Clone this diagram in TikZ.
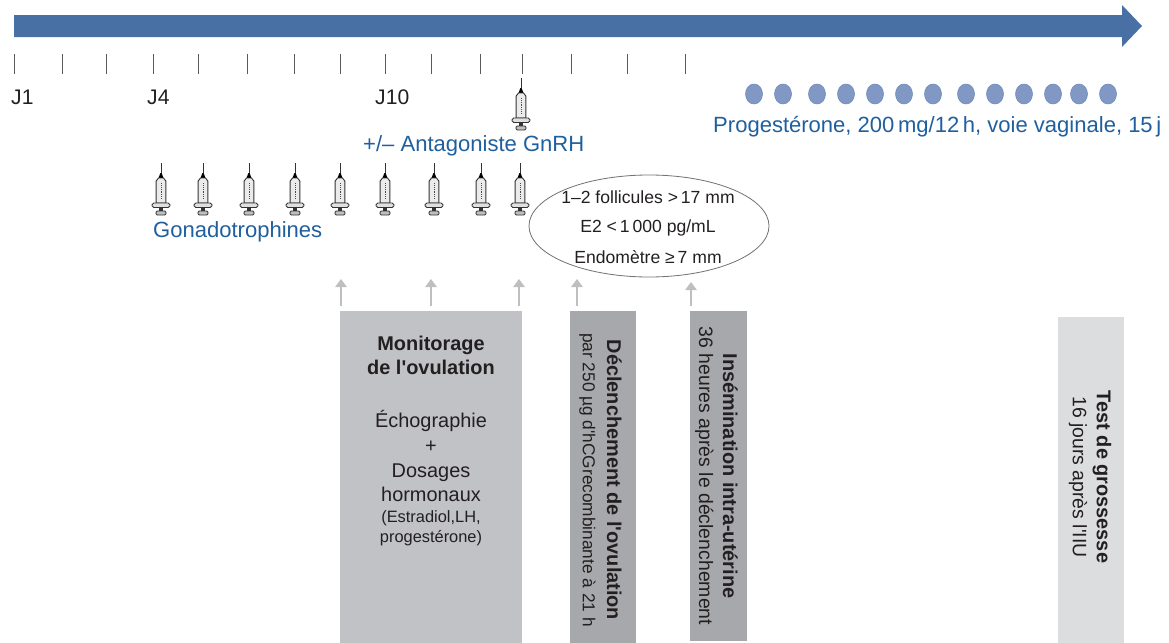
\documentclass[tikz,border=0pt]{standalone}
\usepackage{fontspec}
\setmainfont{Liberation Sans}
\usetikzlibrary{arrows.meta}
\usetikzlibrary{shapes.geometric}

\definecolor{timeblue}{HTML}{4870A5}
\definecolor{textblue}{HTML}{1F5F9E}
\definecolor{dotblue}{HTML}{8298C4}
\definecolor{dotedge}{HTML}{6F8DBB}
\definecolor{inkdark}{HTML}{231F20}
\newcommand{\titlesize}{\fontsize{17}{20.5}\selectfont\bfseries}
\newcommand{\sq}{\textquotesingle}

\begin{document}
\begin{tikzpicture}[x=0.03cm,y=-0.03cm,
    daytick/.style={draw=black!65, line width=0.8pt},
    daylabel/.style={text=inkdark, font=\fontsize{18}{20}\selectfont, anchor=west, inner sep=0pt},
    bluelabel/.style={text=textblue, font=\fontsize{18.8}{22}\selectfont, anchor=west, inner sep=0pt},
    pill/.style={ellipse, draw=dotedge, fill=dotblue, line width=0.5pt, inner sep=0pt},
    panel/.style={rectangle, anchor=north west, inner sep=0pt, draw=none},
    criteria/.style={text=inkdark, font=\fontsize{15}{18}\selectfont, inner sep=0pt},
    sidetext/.style={text=inkdark, rotate=-90, align=center, inner sep=0pt, font=\fontsize{16.6}{20.5}\selectfont},
    up/.style={draw=black!25, line width=1pt, -{Triangle[length=7pt,width=10pt]}},
    pics/syringe/.style={code={
      \draw[black!80, line width=0.5pt] (0,0) -- (0,10);
      \fill[black] (-2.5,15) -- (-0.6,10) -- (0.6,10) -- (2.5,15) -- cycle;
      \draw[black!80, fill=black!8, line width=0.8pt] (-2.5,15) -- (2.5,15) -- (4.8,18) -- (4.8,40) -- (-4.8,40) -- (-4.8,18) -- cycle;
      \draw[black!70, line width=0.6pt, dash pattern=on 0.8pt off 0.8pt] (0.5,20) -- (0.5,36);
      \draw[black!80, fill=black!12, line width=0.8pt, rounded corners=1.5pt] (-9,40) rectangle (9,44.5);
      \fill[black!80] (-2,44.5) rectangle (2,48);
      \draw[black!80, fill=black!25, line width=0.8pt, rounded corners=1pt] (-5,48) rectangle (5,52);
    }}]
  \useasboundingbox (0,0) rectangle (1169,643);

  \fill[timeblue] (14,15) -- (1122,15) -- (1122,5) -- (1142,26) -- (1122,47) -- (1122,37) -- (14,37) -- cycle;

  \foreach \x in {14,62,106,153,198,247,294,340,385,431,480,522,571,627,685}
    \draw[daytick] (\x,54) -- (\x,74);

  \node[daylabel] (j1) at (11,97) {J1};
  \node[daylabel] (j4) at (147,97) {J4};
  \node[daylabel] (j10) at (375,97) {J10};

  \pic at (521,78) {syringe};
  \node[bluelabel] (antagoniste) at (363,145.5) {+/– Antagoniste GnRH};

  \foreach \x in {754,783,817,846,875,904,933,966,995,1024,1053,1079,1108}
    \node[pill, minimum width=17*0.03cm, minimum height=20*0.03cm] at (\x,94) {};
  \node[bluelabel] (progesterone) at (713,127) {Progestérone, 200\,mg/12\,h, voie vaginale, 15\,j};

  \foreach \x in {161,203,249,295,340,385,434,481,520}
    \pic at (\x,163) {syringe};
  \node[bluelabel] (gonadotrophines) at (153,232) {Gonadotrophines};

  \node[ellipse, draw=black!55, line width=0.7pt, minimum width=240*0.03cm, minimum height=102*0.03cm, inner sep=0pt] (criteres) at (649,226) {};
  \node[criteria] (follicules) at (648,197) {1–2 follicules >\,17 mm};
  \node[criteria] (estradiol) at (648,227.5) {E2 <\,1\,000 pg/mL};
  \node[criteria] (endometre) at (648,257) {Endomètre ≥\,7 mm};

  \node[panel, fill={rgb,255:red,193;green,194;blue,197}, minimum width=182*0.03cm, minimum height=332*0.03cm] (monitorage) at (340,311) {};
  \node[panel, fill={rgb,255:red,167;green,168;blue,171}, minimum width=66*0.03cm, minimum height=332*0.03cm] (declenchement) at (570,311) {};
  \node[panel, fill={rgb,255:red,167;green,168;blue,171}, minimum width=57*0.03cm, minimum height=330*0.03cm] (insemination) at (690,311) {};
  \node[panel, fill={rgb,255:red,220;green,221;blue,222}, minimum width=66*0.03cm, minimum height=326*0.03cm] (test) at (1058,317) {};

  \coordinate (a1) at (341,279);
  \coordinate (a2) at (431,279);
  \coordinate (a3) at (519,279);
  \coordinate (a4) at (577,279);
  \coordinate (a5) at (691,282);
  \draw[up] (monitorage.north west -| a1) ++(0,-5) -- (a1);
  \draw[up] (monitorage.north -| a2) ++(0,-5) -- (a2);
  \draw[up] (monitorage.north east -| a3) ++(0,-5) -- (a3);
  \draw[up] (declenchement.north -| a4) ++(0,-5) -- (a4);
  \draw[up] (insemination.north -| a5) ++(0,-5) -- (a5);

  \node[text=inkdark, align=center, inner sep=0pt, font=\fontsize{17}{20.5}\selectfont] (monititle) at (431,355) {
    \textbf{Monitorage}\\
    \textbf{de l\sq ovulation}
  };
  \node[text=inkdark, align=center, inner sep=0pt, font=\fontsize{17}{21.3}\selectfont] (monitext) at (431,456) {
    Échographie\\
    +\\
    Dosages\\
    hormonaux
  };
  \node[text=inkdark, align=center, inner sep=0pt, font=\fontsize{14}{17}\selectfont] (monisub) at (431,528) {
    (Estradiol,LH,\\
    progestérone)
  };

  \node[sidetext] (decltext) at (600.5,480) {{\titlesize Déclenchement de l\sq ovulation}\\{\fontsize{14.75}{20.5}\selectfont par 250 µg d\sq hCGrecombinante à 21 h}};
  \node[sidetext] (insetext) at (716.5,476) {{\titlesize Insémination intra-utérine}\\36 heures après le déclenchement};
  \node[sidetext] (testtext) at (1090,477) {{\titlesize Test de grossesse}\\16 jours après l\sq IIU};
\end{tikzpicture}
\end{document}
